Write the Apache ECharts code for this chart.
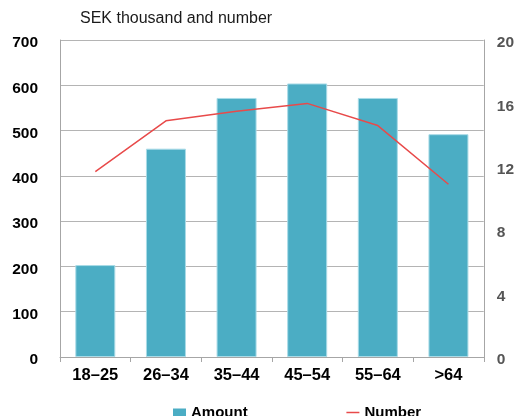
<!DOCTYPE html>
<html>
<head>
<meta charset="utf-8">
<script src="https://cdn.jsdelivr.net/npm/echarts@6/dist/echarts.min.js"></script>
<style>
  html, body { margin: 0; padding: 0; background: #fff; }
  #chart { width: 517px; height: 416px; }
</style>
</head>
<body>
<div id="chart"></div>
<script>
// Age groups on the x axis
const categories = ['18–25', '26–34', '35–44', '45–54', '55–64', '>64'];
// Amount, SEK thousand (left axis)
const amountValues = [203, 460, 572, 604, 572, 492];
// Number (right axis)
const numberValues = [11.7, 14.9, 15.5, 16.0, 14.6, 10.9];

const FONT = '"Liberation Sans", Arial, sans-serif';
const GRID_COLOR = '#b4b4b4';
const BAR_COLOR = '#4badc4';
const LINE_COLOR = '#e84a4a';

const chart = echarts.init(document.getElementById('chart'), null, { renderer: 'canvas' });

chart.setOption({
  animation: false,
  backgroundColor: '#ffffff',
  textStyle: { fontFamily: FONT },
  graphic: [{
    type: 'text',
    left: 80,
    top: 11,
    style: { text: 'SEK thousand and number', font: '16px ' + FONT, fill: '#1a1a1a' }
  }],
  legend: {
    left: 168,
    top: 400,
    itemGap: 98,
    itemWidth: 13,
    itemHeight: 8,
    itemTextGap: 0,
    textStyle: { fontFamily: FONT, fontSize: 15, fontWeight: 'bold', color: '#000' },
    data: [
      { name: 'Amount', icon: 'rect', itemStyle: { color: BAR_COLOR, borderWidth: 0 } },
      { name: 'Number', itemStyle: { opacity: 0 }, lineStyle: { color: LINE_COLOR, width: 1.5 } }
    ]
  },
  grid: { left: 60, right: 33, top: 40, bottom: 59, containLabel: false },
  xAxis: {
    type: 'category',
    data: categories,
    axisLine: { lineStyle: { color: '#a6a6a6', width: 1 } },
    axisTick: { show: true, length: 5, lineStyle: { color: '#a6a6a6' } },
    axisLabel: { color: '#000', fontFamily: FONT, fontSize: 16.5, fontWeight: 'bold', margin: 10 }
  },
  yAxis: [{
    type: 'value',
    min: 0, max: 700, interval: 100,
    axisLine: { show: true, lineStyle: { color: '#a6a6a6' } },
    axisTick: { show: false },
    splitLine: { show: true, lineStyle: { color: GRID_COLOR, width: 1 } },
    axisLabel: {
      color: '#000', fontFamily: FONT, fontSize: 15.5, fontWeight: 'bold', margin: 22,
      verticalAlign: 'top', lineHeight: 6
    }
  }, {
    type: 'value',
    min: 0, max: 20, interval: 4,
    position: 'right',
    axisLine: { show: true, lineStyle: { color: '#a6a6a6' } },
    axisTick: { show: false },
    splitLine: { show: false },
    axisLabel: {
      color: '#555555', fontFamily: FONT, fontSize: 15.5, fontWeight: 'bold', margin: 13,
      verticalAlign: 'top', lineHeight: 6
    }
  }],
  series: [{
    name: 'Amount',
    type: 'bar',
    data: amountValues,
    barWidth: 40,
    itemStyle: { color: BAR_COLOR, borderColor: '#a9dbe7', borderWidth: 1 }
  }, {
    name: 'Number',
    type: 'line',
    yAxisIndex: 1,
    data: numberValues,
    symbol: 'none',
    lineStyle: { color: LINE_COLOR, width: 1.5 },
    itemStyle: { color: LINE_COLOR }
  }]
});
</script>
</body>
</html>
